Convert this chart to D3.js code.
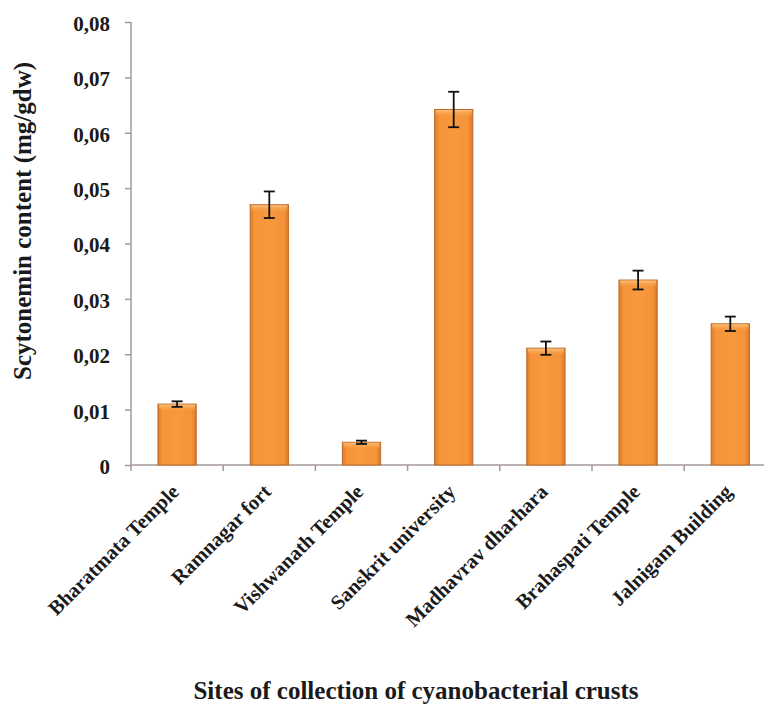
<!DOCTYPE html>
<html>
<head>
<meta charset="utf-8">
<script src="https://cdn.jsdelivr.net/npm/d3@7/dist/d3.min.js"></script>
<style>
  html, body { margin: 0; padding: 0; background: #ffffff; }
  svg { display: block; }
  text { font-family: "Liberation Serif", "Times New Roman", serif; font-weight: bold; fill: #1a1a1a; }
</style>
</head>
<body>
<svg id="chart" width="764" height="708"></svg>
<script>
// Collection sites and scytonemin content (mg/gdw) with standard errors
const sites = [
  "Bharatmata Temple",
  "Ramnagar fort",
  "Vishwanath Temple",
  "Sanskrit university",
  "Madhavrav dharhara",
  "Brahaspati Temple",
  "Jalnigam Building"
];
const content = [0.0110, 0.0470, 0.0041, 0.0642, 0.0211, 0.0334, 0.0255];
const errors  = [0.0005, 0.0024, 0.0003, 0.0032, 0.0012, 0.0017, 0.0013];
const yTicks  = [0, 0.01, 0.02, 0.03, 0.04, 0.05, 0.06, 0.07, 0.08];

const data = sites.map((s, i) => ({ site: s, value: content[i], err: errors[i] }));

const svg = d3.select("#chart");
const plotLeft = 131, plotTop = 22, plotBottom = 465, step = 92.2;
const plotRight = plotLeft + step * sites.length;

const x = d3.scaleBand()
  .domain(sites)
  .range([plotLeft, plotRight])
  .paddingInner(0.585)
  .paddingOuter(0.2925);

const y = d3.scaleLinear().domain([0, 0.08]).range([plotBottom, plotTop]);

// Bar shading: darker edges, lighter top rim
const defs = svg.append("defs");
const hg = defs.append("linearGradient").attr("id", "barSide").attr("x1", 0).attr("x2", 1).attr("y1", 0).attr("y2", 0);
[[0, "#de7b29"], [0.12, "#f5943a"], [0.5, "#f8993d"], [0.88, "#f4933a"], [1, "#d97828"]]
  .forEach(([o, c]) => hg.append("stop").attr("offset", o).attr("stop-color", c));
const vg = defs.append("linearGradient").attr("id", "barTop").attr("x1", 0).attr("x2", 0).attr("y1", 0).attr("y2", 1);
[[0, "#fcc27e", 0.95], [1, "#f8993d", 0]]
  .forEach(([o, c, a]) => vg.append("stop").attr("offset", o).attr("stop-color", c).attr("stop-opacity", a));

const fmt = v => v === 0 ? "0" : d3.format(".2f")(v).replace(".", ",");

// Y axis
const yAxis = svg.append("g").attr("transform", `translate(${plotLeft},0)`)
  .call(d3.axisLeft(y).tickValues(yTicks).tickFormat(fmt).tickSize(6).tickPadding(15));
yAxis.select(".domain").attr("stroke", "#a39a98").attr("stroke-width", 1.5).attr("d", `M0,${plotTop}V${plotBottom}`);
yAxis.selectAll(".tick line").attr("stroke", "#a39a98").attr("stroke-width", 1.5);
yAxis.selectAll(".tick text").attr("font-size", 21).attr("fill", "#1a1a1a").attr("dy", "0.4em")
  .style("font-family", '"Liberation Serif", serif').style("font-weight", "bold");

// X axis baseline and category separators
const xAxis = svg.append("g");
xAxis.append("line").attr("x1", plotLeft).attr("x2", plotRight).attr("y1", plotBottom).attr("y2", plotBottom)
  .attr("stroke", "#a39a98").attr("stroke-width", 1.5);
xAxis.selectAll(".sep").data(d3.range(sites.length + 1)).join("line")
  .attr("x1", i => plotLeft + i * x.step()).attr("x2", i => plotLeft + i * x.step())
  .attr("y1", plotBottom).attr("y2", plotBottom + 6)
  .attr("stroke", "#a39a98").attr("stroke-width", 1.5);

// Bars
const bars = svg.append("g");
bars.selectAll(".bar").data(data).join("rect")
  .attr("x", d => x(d.site)).attr("width", x.bandwidth())
  .attr("y", d => y(d.value)).attr("height", d => y(0) - y(d.value))
  .attr("fill", "url(#barSide)").attr("stroke", "#bd6a26").attr("stroke-width", 1);
bars.selectAll(".rim").data(data).join("rect")
  .attr("x", d => x(d.site) + 1).attr("width", x.bandwidth() - 2)
  .attr("y", d => y(d.value) + 0.5).attr("height", d => Math.min(7, y(0) - y(d.value) - 1))
  .attr("fill", "url(#barTop)");

// Error bars
const eb = svg.append("g").attr("stroke", "#111").attr("stroke-width", 1.8);
data.forEach(d => {
  const cx = x(d.site) + x.bandwidth() / 2;
  const y1 = y(d.value + d.err), y2 = y(d.value - d.err);
  eb.append("line").attr("x1", cx).attr("x2", cx).attr("y1", y1).attr("y2", y2);
  eb.append("line").attr("x1", cx - 5.5).attr("x2", cx + 5.5).attr("y1", y1).attr("y2", y1);
  eb.append("line").attr("x1", cx - 5.5).attr("x2", cx + 5.5).attr("y1", y2).attr("y2", y2);
});

// Rotated category labels
svg.append("g").selectAll("text").data(sites).join("text")
  .attr("transform", s => `translate(${x(s) + x.bandwidth() / 2 + 3},${plotBottom + 28}) rotate(-45)`)
  .attr("text-anchor", "end")
  .attr("font-size", 20.5)
  .text(s => s);

// Axis titles
svg.append("text")
  .attr("transform", `translate(31,221) rotate(-90)`)
  .attr("text-anchor", "middle").attr("font-size", 25)
  .text("Scytonemin content (mg/gdw)");

svg.append("text")
  .attr("x", 416).attr("y", 699)
  .attr("text-anchor", "middle").attr("font-size", 25)
  .text("Sites of collection of cyanobacterial crusts");
</script>
</body>
</html>
